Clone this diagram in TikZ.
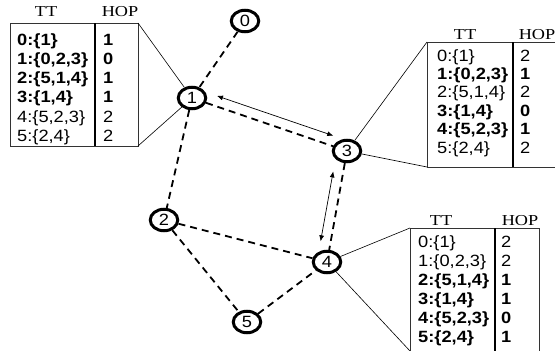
\documentclass[tikz,border=0pt]{standalone}
\usepackage{fontspec}
\setmainfont{Liberation Serif}[FakeStretch=1.2]
\setsansfont{Liberation Sans}[FakeStretch=1.12]
\usetikzlibrary{shapes.geometric,arrows.meta,calc}
\begin{document}
\begin{tikzpicture}[x=1pt,y=-1pt,
  nd/.style={ellipse, draw, line width=3pt, minimum width=27.5pt, minimum height=21.5pt, inner sep=0pt, font=\sffamily\fontsize{16.3}{16}\selectfont},
  cell/.style={anchor=base west, inner sep=0pt, font=\sffamily\fontsize{16.3}{18}\selectfont},
  bcell/.style={cell, font=\sffamily\bfseries\fontsize{16.3}{18}\selectfont},
  hdr/.style={anchor=base, inner sep=0pt, font=\rmfamily\fontsize{15.2}{16}\selectfont},
  lnk/.style={line width=1.8pt, dash pattern=on 7pt off 5pt},
  frame/.style={line width=0.8pt, draw=black!80},
  divd/.style={line width=1.6pt},
  callout/.style={line width=0.6pt},
  dbl/.style={line width=0.7pt, {Latex[length=6pt,width=5pt]}-{Latex[length=6pt,width=5pt]}}
]
\useasboundingbox (0,0) rectangle (555,351);
\clip (0,0) rectangle (555,351);

% nodes
\node[nd] (n0) at (245,21) {0};
\node[nd] (n1) at (192,98) {1};
\node[nd] (n2) at (164,220) {2};
\node[nd] (n3) at (347,151) {3};
\node[nd] (n4) at (327,262) {4};
\node[nd] (n5) at (247,322) {5};

% dashed links
\draw[lnk] (n0) -- (n1);
\draw[lnk] (n1) -- (n2);
\draw[lnk] (n1) -- (n3);
\draw[lnk] (n3) -- (n4);
\draw[lnk] (n2) -- (n4);
\draw[lnk] (n2) -- (n5);
\draw[lnk] (n5) -- (n4);

% double arrows
\draw[dbl] ($(n1)!0.14!(n3)+(3.3,-9.5)$) -- ($(n1)!0.89!(n3)+(3.3,-9.5)$);
\draw[dbl] ($(n3)!0.2!(n4)+(-9.8,-1.8)$) -- ($(n3)!0.83!(n4)+(-9.8,-1.8)$);

% ---- table of node 1
\draw[frame] (10,23) rectangle (138,146);
\draw[divd] (95,23) -- (95,146);
\coordinate (t1ne) at (138,23);
\coordinate (t1se) at (138,146);
\draw[callout] (t1ne) -- (n1);
\draw[callout] (t1se) -- (n1);
\node[hdr] (t1h1) at (46,16.7) {TT};
\node[hdr] (t1h2) at (120,16.7) {HOP};
\node[bcell] (t1a0) at (17,45) {0:\{1\}};
\node[bcell] (t1a1) at (17,64.3) {1:\{0,2,3\}};
\node[bcell] (t1a2) at (17,83.6) {2:\{5,1,4\}};
\node[bcell] (t1a3) at (17,102.9) {3:\{1,4\}};
\node[cell]  (t1a4) at (17,122.2) {4:\{5,2,3\}};
\node[cell]  (t1a5) at (17,141.5) {5:\{2,4\}};
\node[bcell] (t1b0) at (103,45) {1};
\node[bcell] (t1b1) at (103,64.3) {0};
\node[bcell] (t1b2) at (103,83.6) {1};
\node[bcell] (t1b3) at (103,102.9) {1};
\node[cell]  (t1b4) at (103,122.2) {2};
\node[cell]  (t1b5) at (103,141.5) {2};

% ---- table of node 3
\draw[frame] (427,42) rectangle (560,167);
\draw[divd] (513,42) -- (513,167);
\coordinate (t3nw) at (427,42);
\coordinate (t3sw) at (427,167);
\draw[callout] (t3nw) -- (n3);
\draw[callout] (t3sw) -- (n3);
\node[hdr] (t3h1) at (465,39) {TT};
\node[hdr] (t3h2) at (537,39) {HOP};
\node[cell]  (t3a0) at (437,61) {0:\{1\}};
\node[bcell] (t3a1) at (437,79.4) {1:\{0,2,3\}};
\node[cell]  (t3a2) at (437,97.8) {2:\{5,1,4\}};
\node[bcell] (t3a3) at (437,116.2) {3:\{1,4\}};
\node[bcell] (t3a4) at (437,134.6) {4:\{5,2,3\}};
\node[cell]  (t3a5) at (437,153) {5:\{2,4\}};
\node[cell]  (t3b0) at (520,61) {2};
\node[bcell] (t3b1) at (520,79.4) {1};
\node[cell]  (t3b2) at (520,97.8) {2};
\node[bcell] (t3b3) at (520,116.2) {0};
\node[bcell] (t3b4) at (520,134.6) {1};
\node[cell]  (t3b5) at (520,153) {2};

% ---- table of node 4
\draw[frame] (410,228) rectangle (539,360);
\draw[divd] (495,228) -- (495,360);
\coordinate (t4nw) at (410,228);
\coordinate (t4sw) at (410,351);
\draw[callout] (t4nw) -- (n4);
\draw[callout] (t4sw) -- (n4);
\node[hdr] (t4h1) at (441,225) {TT};
\node[hdr] (t4h2) at (520,225) {HOP};
\node[cell]  (t4a0) at (418,247) {0:\{1\}};
\node[cell]  (t4a1) at (418,266.1) {1:\{0,2,3\}};
\node[bcell] (t4a2) at (418,285.2) {2:\{5,1,4\}};
\node[bcell] (t4a3) at (418,304.3) {3:\{1,4\}};
\node[bcell] (t4a4) at (418,323.4) {4:\{5,2,3\}};
\node[bcell] (t4a5) at (418,342.5) {5:\{2,4\}};
\node[cell]  (t4b0) at (501,247) {2};
\node[cell]  (t4b1) at (501,266.1) {2};
\node[bcell] (t4b2) at (501,285.2) {1};
\node[bcell] (t4b3) at (501,304.3) {1};
\node[bcell] (t4b4) at (501,323.4) {0};
\node[bcell] (t4b5) at (501,342.5) {1};
\end{tikzpicture}
\end{document}
